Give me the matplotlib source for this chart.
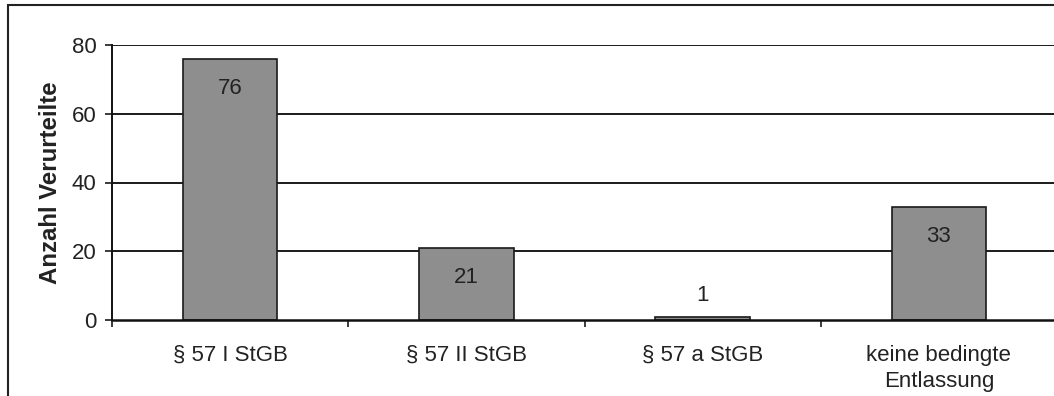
import matplotlib
matplotlib.use("Agg")
import matplotlib.pyplot as plt
from matplotlib.patches import Rectangle
from matplotlib import font_manager as fm

plt.rcParams["font.family"] = ["Liberation Sans", "DejaVu Sans"]

# Data
categories = ["§ 57 I StGB", "§ 57 II StGB", "§ 57 a StGB", "keine bedingte\nEntlassung"]
values = [76, 21, 1, 33]
y_ticks = [0, 20, 40, 60, 80]
y_label = "Anzahl Verurteilte"

# Regular-width bold face for the axis title
bold_path = None
for f in fm.findSystemFonts():
    if f.endswith("LiberationSans-Bold.ttf"):
        bold_path = f
        break
if bold_path:
    title_font = fm.FontProperties(fname=bold_path, size=17.3)
else:
    title_font = fm.FontProperties(family="Liberation Sans", weight="bold", size=17.3)

W, H, DPI = 1054, 396, 100
fig = plt.figure(figsize=(W / DPI, H / DPI), dpi=DPI)

# Plot area (extends slightly past the right edge of the canvas)
left_px, right_px, top_px, bottom_px = 112, 1057, 45, 320
ax = fig.add_axes([left_px / W, 1 - bottom_px / H,
                   (right_px - left_px) / W, (bottom_px - top_px) / H])

text_color = "#222222"
fs = 16
x = list(range(len(categories)))

for t in y_ticks[1:]:
    ax.axhline(t, color="#1a1a1a", lw=1.4, zorder=0.5)

ax.bar(x, values, width=0.40, color="#8e8e8e", edgecolor="#1a1a1a",
       linewidth=1.2, zorder=2)

# Value labels: inside near the top, or above when the bar is too short
for xi, v in zip(x, values):
    offset = -30 if v >= 10 else 21
    ax.annotate(str(v), (xi, v), xytext=(0, offset), textcoords="offset pixels",
                ha="center", va="center", fontsize=fs, color=text_color, zorder=3)

ax.set_xlim(-0.5, len(categories) - 0.5)
ax.set_ylim(0, 80)

# Y axis
ax.set_yticks(y_ticks)
ax.set_yticklabels([str(t) for t in y_ticks])
ax.tick_params(axis="y", direction="out", length=5, width=1.2, pad=6,
               labelsize=fs, labelcolor=text_color, color="#1a1a1a")
ax.set_ylabel(y_label, fontproperties=title_font, color=text_color, labelpad=7)

# X axis: ticks at category boundaries, labels centred under categories
ax.set_xticks([i - 0.5 for i in range(len(categories) + 1)])
ax.set_xticklabels([])
ax.tick_params(axis="x", which="major", direction="out", length=5, width=1.2,
               color="#1a1a1a")
ax.set_xticks(x, minor=True)
ax.set_xticklabels(categories, minor=True, fontsize=fs, color=text_color,
                   linespacing=1.32, va="top")
ax.tick_params(axis="x", which="minor", length=0, pad=18)

for side in ("top", "right"):
    ax.spines[side].set_visible(False)
ax.spines["left"].set_linewidth(1.4)
ax.spines["left"].set_color("#111111")
ax.spines["bottom"].set_linewidth(1.8)
ax.spines["bottom"].set_color("#111111")

# Outer chart frame
frame = Rectangle((8 / W, -0.1), 1.2, 1 - 5 / H + 0.1, transform=fig.transFigure,
                  fill=False, edgecolor="#222222", linewidth=1.5, clip_on=False)
fig.patches.append(frame)

fig.savefig("out.png", dpi=DPI)
